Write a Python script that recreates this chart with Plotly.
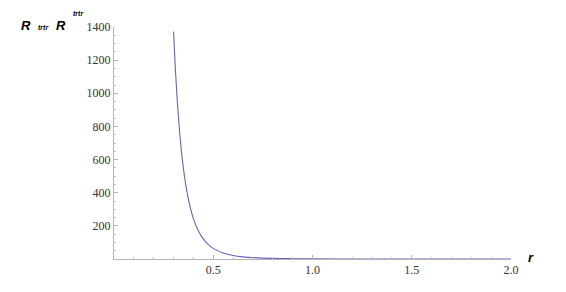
import plotly.graph_objects as go

# values
r_vals = [0.30, 0.31, 0.32, 0.33, 0.34, 0.35, 0.36, 0.37, 0.38, 0.39, 0.40,
          0.42, 0.44, 0.46, 0.48, 0.50, 0.55, 0.60, 0.65, 0.70, 0.80, 0.90,
          1.00, 1.25, 1.50, 1.75, 2.00]
R_vals = [1372, 1127, 931, 775, 648, 544, 459, 390, 332, 284, 244,
          182, 138, 106, 82, 64, 36, 21, 13, 8.5, 3.8, 1.9,
          1.0, 0.26, 0.09, 0.035, 0.016]

x_ticks = [0.5, 1.0, 1.5, 2.0]
x_tick_text = ["0.5", "1.0", "1.5", "2.0"]
y_ticks = [200, 400, 600, 800, 1000, 1200, 1400]

OFF = 8  # page body margin
W, H = 566 - OFF, 292 - OFF
L, R, T, B = 114 - OFF, 55, 27 - OFF, 33
pw = W - L - R
ph = H - T - B

def px(x):
    return (x - OFF - L) / pw

def py(y):
    return (H - B - (y - OFF)) / ph

fig = go.Figure()
fig.add_trace(go.Scatter(x=r_vals, y=R_vals, mode="lines",
                         line=dict(color="#6464be", width=1.1, shape="spline"),
                         hoverinfo="skip", showlegend=False))

serif = dict(family="Liberation Serif", size=12, color="#333333")
axis_common = dict(showgrid=False, zeroline=False, showline=True,
                   linecolor="#b4b4b4", linewidth=1,
                   ticks="inside", tickcolor="#b4b4b4", ticklen=4,
                   tickfont=serif)

fig.update_layout(
    template="none",
    font=serif,
    width=W, height=H,
    margin=dict(l=L, r=R, t=T, b=B),
    paper_bgcolor="white", plot_bgcolor="white",
    xaxis=dict(range=[0, 2.0], tickvals=x_ticks, ticktext=x_tick_text,
               minor=dict(dtick=0.1, tick0=0, ticks="inside", ticklen=2,
                          tickcolor="#c4c4c4"),
               **axis_common),
    yaxis=dict(range=[0, 1400], tickvals=y_ticks,
               minor=dict(dtick=50, tick0=0, ticks="inside", ticklen=2,
                          tickcolor="#c4c4c4"),
               **axis_common),
)

lab_font = dict(family="Liberation Sans", size=13, color="black")
small_font = dict(family="Liberation Sans", size=7, color="black")

def label(x, y, text, font):
    fig.add_annotation(x=px(x), y=py(y), xref="paper", yref="paper",
                       xanchor="center", yanchor="middle",
                       text=text, showarrow=False, font=font)

label(26, 25, "<b><i>R</i></b>", lab_font)
label(43, 27, "<b><i>trtr</i></b>", small_font)
label(61, 25, "<b><i>R</i></b>", lab_font)
label(78, 14, "<b><i>trtr</i></b>", small_font)
label(531, 257, "<b><i>r</i></b>", lab_font)

fig.write_html("out.html")
